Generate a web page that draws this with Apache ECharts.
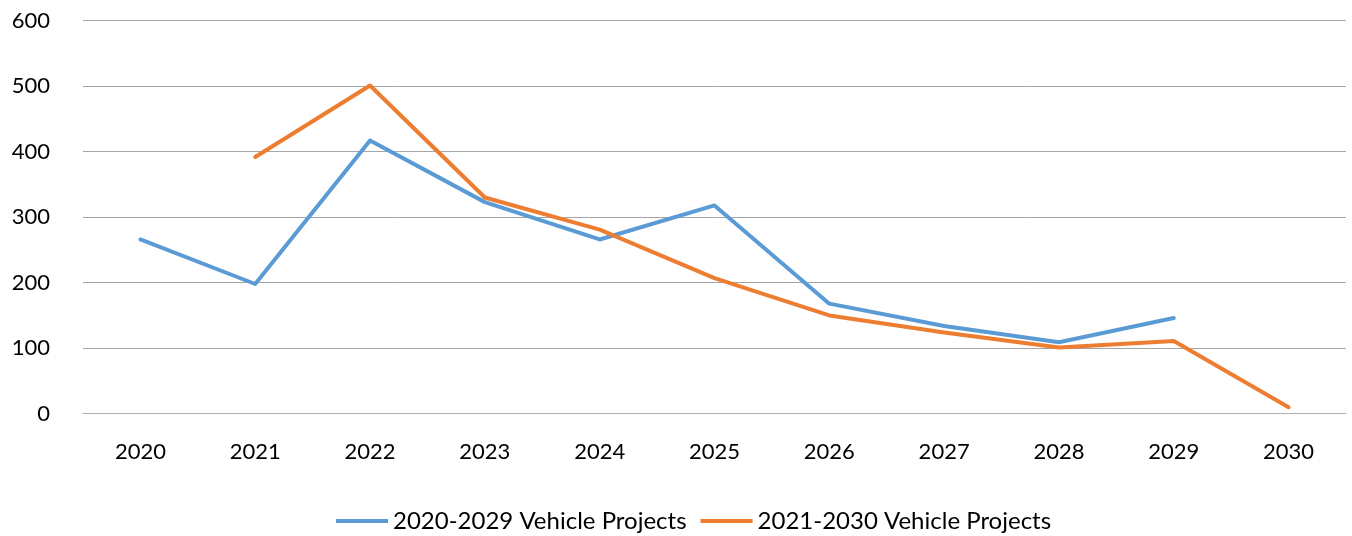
<!DOCTYPE html>
<html><head><meta charset="utf-8">
<script src="https://cdn.jsdelivr.net/npm/echarts@6/dist/echarts.min.js"></script>
<style>html,body{margin:0;padding:0;background:#fff}#c{width:1352px;height:536px}</style>
</head><body><div id="c"></div>
<script>
const categories = ['2020','2021','2022','2023','2024','2025','2026','2027','2028','2029','2030'];
const series2020 = [266, 198, 417, 323, 266, 318, 168, 134, 109, 146, null];
const series2021 = [null, 392, 501, 330, 281, 207, 150, 124, 101, 111, 10];
const seriesNames = ['2020-2029 Vehicle Projects', '2021-2030 Vehicle Projects'];
const yTicks = {min: 0, max: 600, interval: 100};

const font = 'Lato, "Open Sans", sans-serif';
const chart = echarts.init(document.getElementById('c'));
chart.setOption({
  animation: false,
  grid: {left: 83, right: 6, top: 20.7, bottom: 122.3, containLabel: false},
  legend: {
    top: 509, left: 336, padding: 0,
    itemWidth: 52, itemHeight: 4, itemGap: 14,
    icon: 'rect',
    textStyle: {fontFamily: font, fontSize: 24, color: '#000'},
    data: seriesNames
  },
  xAxis: {
    type: 'category', data: categories, boundaryGap: true,
    axisLine: {show: true, lineStyle: {color: '#b0b0b0', width: 1}},
    axisTick: {show: false},
    axisLabel: {fontFamily: font, fontSize: 22, color: '#000', margin: 27}
  },
  yAxis: {
    type: 'value', min: yTicks.min, max: yTicks.max, interval: yTicks.interval,
    axisLine: {show: false}, axisTick: {show: false},
    splitLine: {lineStyle: {color: '#a6a6a6', width: 1}},
    axisLabel: {fontFamily: font, fontSize: 22, color: '#000', margin: 33}
  },
  series: [
    {name: seriesNames[0], type: 'line', data: series2020, showSymbol: false, symbol: 'none',
     lineStyle: {color: '#5B9BD5', width: 4, cap: 'round', join: 'round'}, itemStyle: {color: '#5B9BD5'}},
    {name: seriesNames[1], type: 'line', data: series2021, showSymbol: false, symbol: 'none',
     lineStyle: {color: '#ED7D31', width: 4, cap: 'round', join: 'round'}, itemStyle: {color: '#ED7D31'}}
  ]
});
</script></body></html>
